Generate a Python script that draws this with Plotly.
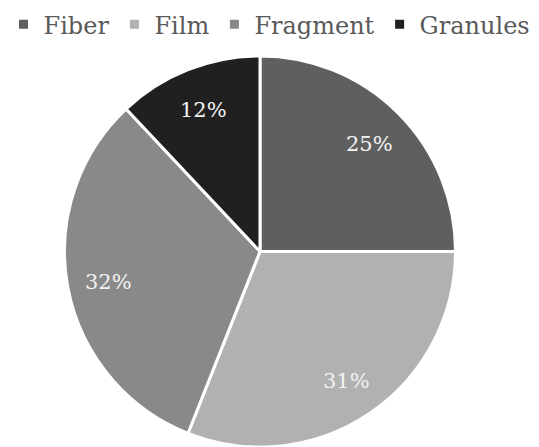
import math
import plotly.graph_objects as go

categories = ["Fiber", "Film", "Fragment", "Granules"]
shares = [25, 31, 32, 12]
slice_colors = ["#5f5f5f", "#b1b1b1", "#898989", "#202020"]

W, H = 539, 447
# pie placement in pixels (centre and radius) -> paper domain
CX, CY, R = 260.0, 251.5, 195.5
LABEL_R = 0.79 * R

fig = go.Figure(
    go.Pie(
        labels=categories,
        values=shares,
        sort=False,
        direction="clockwise",
        rotation=0,
        marker=dict(colors=slice_colors, line=dict(color="white", width=3)),
        textinfo="none",
        hoverinfo="label+percent",
        domain=dict(x=[(CX - R) / W, (CX + R) / W], y=[(H - CY - R) / H, (H - CY + R) / H]),
    )
)

# percentage labels placed along each slice's mid-angle
total = sum(shares)
cum = 0.0
for v in shares:
    mid = 2 * math.pi * (cum + v / 2) / total
    cum += v
    px = CX + LABEL_R * math.sin(mid)
    py = CY - LABEL_R * math.cos(mid) + 2
    fig.add_annotation(
        x=px / W,
        y=1 - py / H,
        xref="paper",
        yref="paper",
        text=f"{v}%",
        showarrow=False,
        xanchor="center",
        yanchor="middle",
        font=dict(family="DejaVu Serif", size=21, color="#f2f2f2"),
    )

fig.update_layout(
    width=W,
    height=H,
    margin=dict(l=0, r=0, t=0, b=0),
    paper_bgcolor="white",
    plot_bgcolor="white",
    showlegend=True,
    legend=dict(
        orientation="h",
        x=0.5,
        xanchor="center",
        y=0.995,
        yanchor="top",
        font=dict(family="DejaVu Serif", size=24, color="#595959"),
        itemclick=False,
        bgcolor="rgba(0,0,0,0)",
    ),
)

fig.write_html("out.html")
